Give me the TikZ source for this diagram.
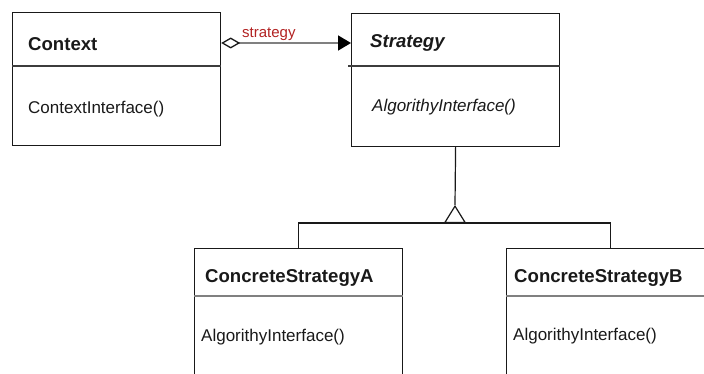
\documentclass[tikz,border=0pt]{standalone}
\usepackage{fontspec}
\setmainfont{Liberation Sans}
\usetikzlibrary{arrows.meta}
\definecolor{ink}{RGB}{25,25,25}
\definecolor{lblred}{RGB}{178,34,34}
\definecolor{linegray}{RGB}{128,128,128}
\begin{document}
\begin{tikzpicture}[x=1pt,y=-1pt,
  box/.style={draw=ink, line width=1.2pt, minimum width=208pt, anchor=north west, inner sep=0pt},
  title/.style={anchor=base west, inner sep=0pt, font=\fontsize{18.6}{20}\selectfont\bfseries, text=ink},
  op/.style={anchor=base west, inner sep=0pt, font=\fontsize{17}{19}\selectfont, text=ink},
  divider/.style={draw=ink!85, line width=1.2pt},
  divgray/.style={draw=linegray, line width=1.8pt},
  conn/.style={draw=ink, line width=1.2pt},
  lbl/.style={anchor=base west, inner sep=0pt, font=\fontsize{15}{17}\selectfont, text=lblred}]
\useasboundingbox (0,0) rectangle (704,374);
\clip (0,0) rectangle (704,374);

% boxes
\node[box, minimum height=133pt] (ctx) at (12,12) {};
\node[box, minimum height=133pt] (strat) at (351,13) {};
\node[box, minimum height=160pt] (ca) at (194,248) {};
\node[box, minimum height=160pt] (cb) at (506,248) {};

% dividers
\draw[divider] ([yshift=-54pt]ctx.north west) -- ([yshift=-54pt]ctx.north east);
\draw[divider] ([xshift=-3pt,yshift=-53pt]strat.north west) -- ([yshift=-53pt]strat.north east);
\draw[divgray] ([yshift=-48pt]ca.north west) -- ([yshift=-48pt]ca.north east);
\draw[divgray] ([yshift=-48pt]cb.north west) -- ([yshift=-48pt]cb.north east);

% texts
\node[title] (ctxT) at (28,51) {Context};
\node[op] (ctxO) at (28,114) {ContextInterface()};
\node[title, font=\fontsize{18.6}{20}\selectfont\bfseries\itshape] (stT) at (370,48) {Strategy};
\node[op, font=\fontsize{17}{19}\selectfont\itshape] (stO) at (372,112) {AlgorithyInterface()};
\node[title] (caT) at (205,282) {ConcreteStrategyA};
\node[op] (caO) at (201,341) {AlgorithyInterface()};
\node[title] (cbT) at (514,282) {ConcreteStrategyB};
\node[op] (cbO) at (513,340) {AlgorithyInterface()};

% association
\draw[draw=linegray, line width=1.6pt,
  {Diamond[length=19pt, width=11pt, color=ink, fill=white, line width=1.3pt]}-{Triangle[length=13pt, width=15pt, color=black]}]
  ([yshift=-31pt]ctx.north east) -- ([yshift=-30pt]strat.north west);
\node[lbl] (lab) at (242,38) {strategy};

% inheritance
\coordinate (apex) at (455,205);
\coordinate (tri) at (455,223);
\draw[conn] (strat.south) -- (apex);
\draw[conn, -{Triangle[open, length=18pt, width=22pt]}] (tri) -- (apex);
\draw[conn] (ca.north) |- (tri) -| (cb.north);
\end{tikzpicture}
\end{document}
